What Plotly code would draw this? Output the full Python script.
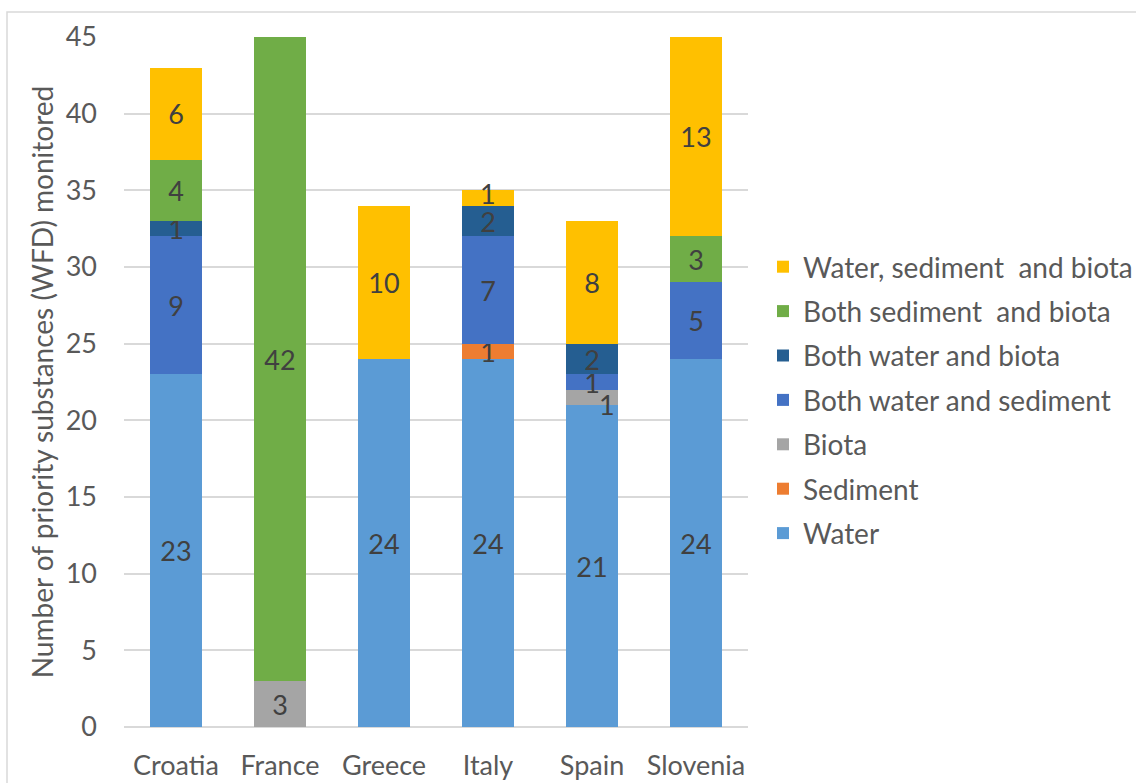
import plotly.graph_objects as go

countries = ["Croatia", "France", "Greece", "Italy", "Spain", "Slovenia"]

# Priority substances monitored, by matrix, per country
water = [23, 0, 24, 24, 21, 24]
sediment = [0, 0, 0, 1, 0, 0]
biota = [0, 3, 0, 0, 1, 0]
water_sediment = [9, 0, 0, 7, 1, 5]
water_biota = [1, 0, 0, 2, 2, 0]
sediment_biota = [4, 42, 0, 0, 0, 3]
water_sediment_biota = [6, 0, 10, 1, 8, 13]

series = [
    ("Water", water, "#5B9BD5"),
    ("Sediment", sediment, "#ED7D31"),
    ("Biota", biota, "#A5A5A5"),
    ("Both water and sediment", water_sediment, "#4472C4"),
    ("Both water and biota", water_biota, "#255E91"),
    ("Both sediment  and biota", sediment_biota, "#70AD47"),
    ("Water, sediment  and biota", water_sediment_biota, "#FFC000"),
]

FONT = "Lato"
SIZE = 27
LEG_SIZE = 28
LABEL_FONT = dict(family=FONT, size=SIZE, color="#404040")

# labels of thin segments drawn as annotations, nudged so they stay legible:
# (series name, country, xshift, yshift)
nudged = [
    ("Biota", "Spain", 15, -7),
    ("Water, sediment  and biota", "Italy", 0, 5),
]

fig = go.Figure()
base = [0] * len(countries)
for i, (name, vals, color) in enumerate(series):
    labels = [str(v) if v else "" for v in vals]
    for sname, cname, dx, dy in nudged:
        if sname == name:
            j = countries.index(cname)
            labels[j] = ""
            fig.add_annotation(
                x=cname, y=base[j] + vals[j] / 2, text=str(vals[j]),
                showarrow=False, xshift=dx, yshift=dy, font=LABEL_FONT,
            )
    fig.add_trace(go.Bar(
        name=name, x=countries, y=vals, marker_color=color,
        marker_line_width=0,
        text=labels, textposition="inside", insidetextanchor="middle",
        textangle=0, textfont=LABEL_FONT,
        legendgroup=name, legendrank=100 - i, hoverinfo="skip",
    ))
    base = [b + v for b, v in zip(base, vals)]

L, R, T, B = 124, 388, 37, 56
W, H = 1136, 783
pw, ph = W - L - R, H - T - B

# thin frame around the chart area
fig.add_shape(
    type="rect", xref="paper", yref="paper",
    x0=(7 - L) / pw, x1=(W + 20 - L) / pw,
    y0=-(B + 20) / ph, y1=(H - B - 12) / ph,
    line=dict(color="#D9D9D9", width=1.5), fillcolor="rgba(0,0,0,0)",
    layer="below",
)

fig.update_layout(
    width=W, height=H,
    margin=dict(l=L, r=R, t=T, b=B),
    barmode="stack", bargap=0.5,
    plot_bgcolor="white", paper_bgcolor="white",
    font=dict(family=FONT, size=SIZE, color="#595959"),
    uniformtext=dict(minsize=SIZE, mode="show"),
    showlegend=True,
    legend=dict(
        traceorder="grouped", tracegroupgap=5,
        xref="container", yref="container",
        x=763 / W, xanchor="left", y=(H - 400) / H, yanchor="middle",
        font=dict(family=FONT, size=LEG_SIZE, color="#595959"),
        bgcolor="rgba(0,0,0,0)",
    ),
    xaxis=dict(showgrid=False, showline=False, ticks="", tickfont=dict(size=SIZE),
               ticklabelstandoff=20, automargin=False),
    yaxis=dict(
        range=[0, 45], dtick=5, showgrid=True, gridcolor="#D9D9D9", gridwidth=1.5,
        zeroline=True, zerolinecolor="#D9D9D9", zerolinewidth=1.5,
        showline=False, ticks="", tickfont=dict(size=SIZE), ticklabelstandoff=26,
        automargin=False,
        title=dict(text="Number of priority substances (WFD) monitored",
                   font=dict(size=28), standoff=3),
    ),
)

fig.write_html("out.html")
